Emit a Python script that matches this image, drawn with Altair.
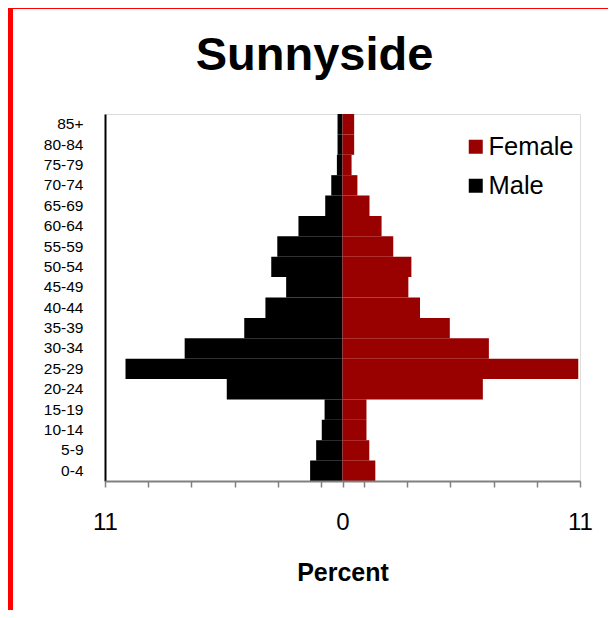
import altair as alt
import pandas as pd

ages = ["0-4", "5-9", "10-14", "15-19", "20-24", "25-29", "30-34", "35-39",
        "40-44", "45-49", "50-54", "55-59", "60-64", "65-69", "70-74",
        "75-79", "80-84", "85+"]
male = [1.50, 1.22, 0.96, 0.83, 5.36, 10.05, 7.31, 4.55, 3.57, 2.61, 3.30,
        3.02, 2.04, 0.80, 0.52, 0.26, 0.23, 0.23]
female = [1.52, 1.24, 1.11, 1.11, 6.50, 10.92, 6.78, 4.97, 3.59, 3.05, 3.19,
          2.35, 1.81, 1.25, 0.69, 0.42, 0.54, 0.54]
x_ticks = [-11, -9, -7, -5, -3, -1, 0, 1, 3, 5, 7, 9, 11]
sexes = ["Female", "Male"]
colors = ["#990000", "#000000"]

rows = []
for a, m, f in zip(ages, male, female):
    rows.append({"age": a, "sex": "Male", "pct": -m})
    rows.append({"age": a, "sex": "Female", "pct": f})
df = pd.DataFrame(rows)

FONT = "Liberation Sans"

bars = alt.Chart(df).mark_bar().encode(
    y=alt.Y("age:N", sort=list(reversed(ages)),
            scale=alt.Scale(paddingInner=0, paddingOuter=0),
            axis=alt.Axis(title=None, ticks=False, domain=True,
                          domainColor="#000000", domainWidth=2,
                          labelFontSize=15.5, labelPadding=22,
                          labelColor="#000000", labelFont=FONT)),
    x=alt.X("pct:Q", stack=None,
            scale=alt.Scale(domain=[-11, 11], nice=False),
            axis=alt.Axis(values=x_ticks, grid=False, title="Percent",
                          labelExpr="datum.value == 0 ? '0' : (abs(datum.value) == 11 ? '11' : '')",
                          labelFlush=False, labelOverlap=False, labelBound=False,
                          domainColor="#808080", domainWidth=2,
                          tickColor="#808080", tickWidth=1.5, tickSize=6,
                          labelFontSize=24, labelPadding=23, labelColor="#000000",
                          labelFont=FONT, titleFont=FONT, titleFontSize=25,
                          titleFontWeight="bold", titleColor="#000000",
                          titlePadding=26, zindex=1)),
    color=alt.Color("sex:N", scale=alt.Scale(domain=sexes, range=colors),
                    legend=alt.Legend(title=None, orient="none", legendX=358,
                                      legendY=20, labelFontSize=25.5,
                                      labelFont=FONT, labelColor="#000000",
                                      symbolType="square", symbolSize=196,
                                      symbolStrokeWidth=0, rowPadding=12,
                                      labelOffset=0, padding=0)),
)

frame = alt.Chart(alt.Data(values=[{"a": 1}])).mark_rect(
    filled=False, stroke="#ff0000", strokeWidth=6, clip=False
).encode(x=alt.value(-95), x2=alt.value(520), y=alt.value(-108), y2=alt.value(510))

chart = alt.layer(bars, frame).properties(
    width=475, height=367,
    autosize=alt.AutoSizeParams(type="none"),
    padding={"left": 97, "top": 106, "right": 28, "bottom": 129},
    title=alt.TitleParams("Sunnyside", fontSize=47, fontWeight="bold", font=FONT,
                          anchor="middle", dx=-28, offset=0, dy=77,
                          color="#000000"),
).configure_view(stroke="#000000", strokeWidth=2).configure(font=FONT
).configure_axisY(ticks=False)

chart.save("out.html", embed_options={"renderer": "svg", "actions": False})
